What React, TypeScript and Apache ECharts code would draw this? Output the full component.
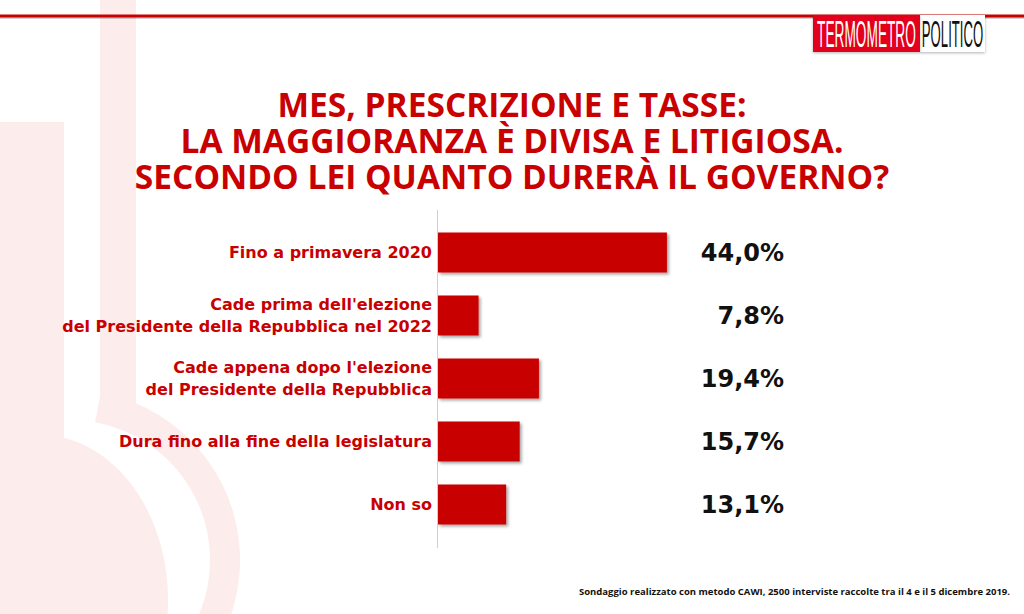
import React, { useEffect, useRef } from "react";
import * as echarts from "echarts";

const categories = [
  "Fino a primavera 2020",
  "Cade prima dell'elezione\ndel Presidente della Repubblica nel 2022",
  "Cade appena dopo l'elezione\ndel Presidente della Repubblica",
  "Dura fino alla fine della legislatura",
  "Non so",
];
const values = [44.0, 7.8, 19.4, 15.7, 13.1];
const valueLabels = values.map((v) => v.toFixed(1).replace(".", ",") + "%");

const titleLines = [
  "MES, PRESCRIZIONE E TASSE:",
  "LA MAGGIORANZA È DIVISA E LITIGIOSA.",
  "SECONDO LEI QUANTO DURERÀ IL GOVERNO?",
];
const footerText =
  "Sondaggio realizzato con metodo CAWI, 2500 interviste raccolte tra il 4 e il 5 dicembre 2019.";

const RED = "#c90000";
const PINK = "#fcecec";
const FONT = "'Open Sans', 'DejaVu Sans', sans-serif";
const WIDE = "'DejaVu Sans', 'Open Sans', sans-serif";
const NARROW = "'Liberation Sans Narrow', 'Liberation Sans', sans-serif";

export default function App() {
  const ref = useRef<HTMLDivElement>(null);
  useEffect(() => {
    if (!ref.current) return;
    const chart = echarts.init(ref.current, undefined, { renderer: "svg" });
    const graphic: any[] = [
      // watermark
      { type: "sector", z: -10, shape: { cx: 70, cy: 560, r0: 0, r: 170, startAngle: -1.39, endAngle: Math.PI / 2, clockwise: true }, style: { fill: PINK } },
      { type: "circle", z: -9, shape: { cx: 70, cy: 560, r: 140 }, style: { fill: "#ffffff" } },
      { type: "rect", z: -8, shape: { x: 0, y: 122, width: 64, height: 492 }, style: { fill: PINK } },
      { type: "ellipse", z: -8, shape: { cx: 40, cy: 600, rx: 128, ry: 165 }, style: { fill: PINK } },
      { type: "rect", z: -8, shape: { x: 100, y: 0, width: 36, height: 405 }, style: { fill: PINK } },
      // top line
      { type: "rect", shape: { x: 0, y: 17, width: 1024, height: 2 }, style: { fill: "rgba(0,0,0,0.18)" } },
      { type: "rect", shape: { x: 0, y: 14.5, width: 1024, height: 3 }, style: { fill: RED } },
      // logo
      { type: "rect", shape: { x: 920, y: 15, width: 65, height: 37 }, style: { fill: "#ffffff", shadowColor: "rgba(0,0,0,0.3)", shadowBlur: 3, shadowOffsetY: 1 } },
      { type: "rect", shape: { x: 813, y: 15, width: 107, height: 37 }, style: { fill: "#e2001a", shadowColor: "rgba(0,0,0,0.3)", shadowBlur: 3, shadowOffsetY: 1 } },
      { type: "text", x: 866.5, y: 34, scaleX: 0.37, style: { text: "TERMOMETRO", align: "center", verticalAlign: "middle", fill: "#ffffff", fontSize: 37, fontFamily: NARROW } },
      { type: "text", x: 952.5, y: 34, scaleX: 0.355, style: { text: "POLITICO", align: "center", verticalAlign: "middle", fill: "#111111", fontSize: 37, fontFamily: NARROW } },
      // axis line
      { type: "line", shape: { x1: 437.5, y1: 210, x2: 437.5, y2: 548 }, style: { stroke: "#d0d0d0", lineWidth: 1 } },
      // footer
      { type: "text", x: 1010, y: 591, style: { text: footerText, align: "right", verticalAlign: "middle", fill: "#111111", fontSize: 9.5, fontWeight: "bold", fontFamily: FONT } },
      // title
      {
        type: "text",
        x: 512,
        y: 140,
        style: { text: titleLines.join("\n"), align: "center", verticalAlign: "middle", lineHeight: 36, fill: RED, fontSize: 33.5, fontWeight: "bold", fontFamily: FONT },
      },
    ];

    chart.setOption({
      animation: false,
      backgroundColor: "#ffffff",
      graphic,
      grid: { left: 438, right: 240, top: 221, bottom: 78 },
      xAxis: { type: "value", min: 0, max: 66.5, show: false },
      yAxis: [
        {
          type: "category",
          data: categories,
          inverse: true,
          axisLine: { show: false },
          axisTick: { show: false },
          splitLine: { show: false },
          axisLabel: { margin: 6, color: RED, fontSize: 16, fontWeight: "bold", lineHeight: 22, fontFamily: WIDE, align: "right" },
        },
        {
          type: "category",
          data: valueLabels,
          inverse: true,
          position: "right",
          axisLine: { show: false },
          axisTick: { show: false },
          splitLine: { show: false },
          axisLabel: { inside: true, margin: 0, color: "#111111", fontSize: 24, fontWeight: "bold", fontFamily: WIDE },
        },
      ],
      series: [
        {
          type: "bar",
          data: values,
          barWidth: 40,
          itemStyle: { color: RED, shadowColor: "rgba(0,0,0,0.35)", shadowBlur: 3, shadowOffsetX: 2, shadowOffsetY: 2 },
          z: 3,
        },
      ],
    });
    return () => chart.dispose();
  }, []);
  return <div ref={ref} style={{ position: "fixed", left: 0, top: 0, width: 1024, height: 614 }} />;
}
